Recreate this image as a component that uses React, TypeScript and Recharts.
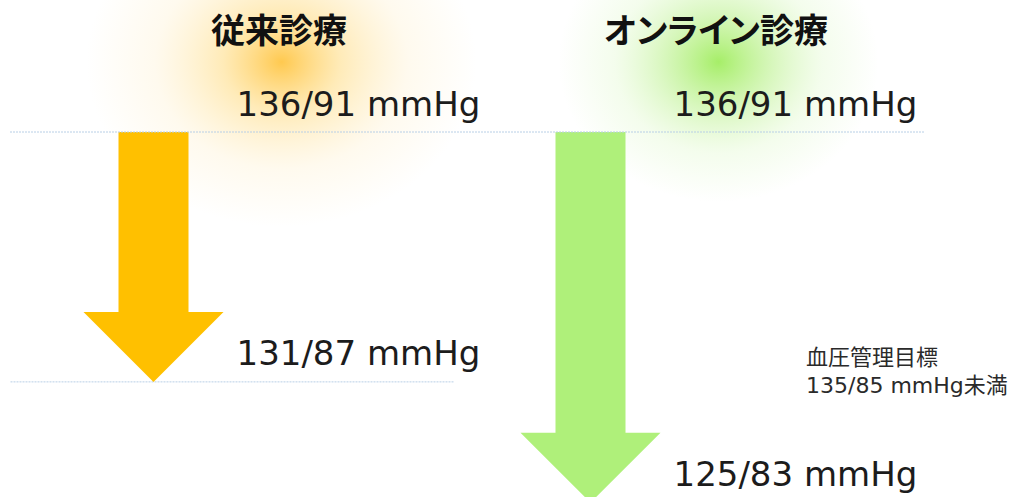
import { BarChart, Bar, Cell, XAxis, YAxis, ReferenceLine } from "recharts";

// values
const groups = ["従来診療", "オンライン診療"];
const systolicBefore = [136, 136];
const diastolicBefore = [91, 91];
const systolicAfter = [131, 125];
const diastolicAfter = [87, 83];
const targetNote = ["血圧管理目標", "135/85 mmHg未満"];

const arrowColors = ["#FFC000", "#AFF07A"];
const glowStops = [
  ["#FFC94F", "#FFE4A0", "#FFF4DA"],
  ["#A6EE68", "#C4F39C", "#E6FAD6"],
];

const data = groups.map((name, i) => ({
  idx: i,
  name,
  drop: systolicBefore[i] - systolicAfter[i],
  startText: `${systolicBefore[i]}/${diastolicBefore[i]} mmHg`,
  endText: `${systolicAfter[i]}/${diastolicAfter[i]} mmHg`,
}));

const numFont = '"DejaVu Sans", Verdana, sans-serif';
const jpFont = '"Noto Sans CJK JP", "Noto Sans", sans-serif';

function ArrowShape(props: any) {
  const { x, y, width, height, fill, payload } = props;
  const i = payload.idx;
  const cx = x + width / 2;
  const half = width / 2;
  const shaft = width / 4;
  // reversed axis: the bar may come with a negative height
  const top = Math.min(y, y + height);
  const tip = Math.max(y, y + height);
  const neck = tip - half;
  const pts = [
    [cx - shaft, top],
    [cx + shaft, top],
    [cx + shaft, neck],
    [cx + half, neck],
    [cx, tip],
    [cx - half, neck],
    [cx - shaft, neck],
  ]
    .map((p) => p.join(","))
    .join(" ");
  const g = glowStops[i];
  const id = `glow-${i}`;
  return (
    <g>
      <defs>
        <radialGradient id={id}>
          <stop offset="0%" stopColor={g[0]} stopOpacity={1} />
          <stop offset="30%" stopColor={g[1]} stopOpacity={0.75} />
          <stop offset="65%" stopColor={g[2]} stopOpacity={0.45} />
          <stop offset="100%" stopColor={g[2]} stopOpacity={0} />
        </radialGradient>
      </defs>
      <ellipse cx={cx + 128} cy={top - 70} rx={i === 0 ? 195 : 160} ry={i === 0 ? 165 : 140} fill={`url(#${id})`} />
      <line x1={cx - 143} x2={cx + 300} y1={tip} y2={tip} stroke="#B8CFE6" strokeWidth={1} strokeDasharray="2 1" />
      <polygon points={pts} fill={fill} />
      <text x={cx + 83} y={top - 16} fontFamily={numFont} fontSize={34} fill="#1c1c1c">
        {payload.startText}
      </text>
      <text x={cx + 83} y={tip - 17} fontFamily={numFont} fontSize={34} fill="#1c1c1c">
        {payload.endText}
      </text>
    </g>
  );
}

function TitleTick(props: any) {
  const { x, y, payload } = props;
  return (
    <text
      x={x + 126}
      y={y - 89}
      textAnchor="middle"
      fontFamily={jpFont}
      fontWeight={700}
      fontSize={34}
      fill="#111"
      style={{ fontFeatureSettings: '"palt"' }}
    >
      {groups[payload.value]}
    </text>
  );
}

export default function App() {
  return (
    <div style={{ position: "absolute", left: 0, top: 0, width: 1015, height: 497, overflow: "hidden", background: "#fff" }}>
      <BarChart width={1015} height={579} data={data} margin={{ top: 0, right: 90, bottom: 0, left: 10 }}>
        <XAxis
          dataKey="idx"
          type="number"
          orientation="top"
          domain={[0, 1]}
          ticks={[0, 1]}
          padding={{ left: 143, right: 335 }}
          height={132}
          tickSize={0}
          tickMargin={0}
          axisLine={false}
          tickLine={false}
          tick={<TitleTick />}
          interval={0}
        />
        <YAxis type="number" scale="sqrt" domain={[0, 16]} reversed hide />
        <ReferenceLine y={0} stroke="#B8CFE6" strokeWidth={1} strokeDasharray="2 1" />
        <Bar dataKey="drop" barSize={140} shape={<ArrowShape />} isAnimationActive={false}>
          {data.map((d, i) => (
            <Cell key={d.name} fill={arrowColors[i]} />
          ))}
        </Bar>
      </BarChart>
      <div
        style={{
          position: "absolute",
          left: 806,
          top: 344,
          fontFamily: `${numFont.split(",")[0]}, ${jpFont}`,
          fontSize: 22,
          lineHeight: "28px",
          color: "#2a2a2a",
          whiteSpace: "nowrap",
        }}
      >
        {targetNote.map((t) => (
          <div key={t}>{t}</div>
        ))}
      </div>
    </div>
  );
}
